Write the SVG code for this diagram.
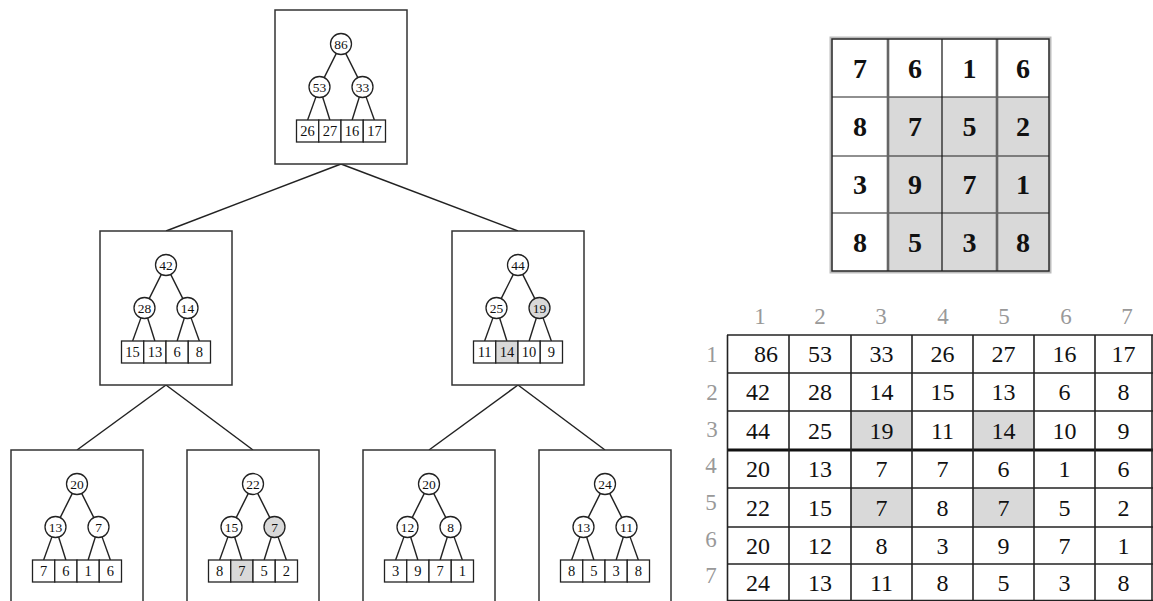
<svg xmlns="http://www.w3.org/2000/svg" xmlns:xlink="http://www.w3.org/1999/xlink" width="1153" height="601" viewBox="0 0 1153 601">
<style>
.box{fill:#fff;stroke:#333;stroke-width:1.5}
.e{stroke:#222;stroke-width:1.4;fill:none}
.c{fill:#fff;stroke:#222;stroke-width:1.3}
.cg{fill:#d9d9d9;stroke:#222;stroke-width:1.3}
.lf{fill:#fff;stroke:#222;stroke-width:1.3}
.lg{fill:#d9d9d9;stroke:#222;stroke-width:1.3}
.tc{font-family:"Liberation Serif","DejaVu Serif",serif;font-size:13.5px;text-anchor:middle;fill:#111}
.tl{font-family:"Liberation Serif","DejaVu Serif",serif;font-size:14.5px;text-anchor:middle;fill:#111}
.con{stroke:#222;stroke-width:1.5;fill:none}
.gt{font-family:"Liberation Serif","DejaVu Serif",serif;font-size:28px;font-weight:bold;text-anchor:middle;fill:#111}
.tt{font-family:"Liberation Serif","DejaVu Serif",serif;font-size:24px;text-anchor:middle;fill:#111}
.hd{font-family:"Liberation Serif","DejaVu Serif",serif;font-size:23px;text-anchor:middle;fill:#999}
.tb{stroke:#222;stroke-width:1.6;fill:none}
</style>
<defs>
<g id="edges">
<line class="e" x1="-4.69" y1="43.39" x2="-16.81" y2="67.61"/>
<line class="e" x1="4.69" y1="43.39" x2="16.81" y2="67.61"/>
<line class="e" x1="-25.06" y1="86.88" x2="-33.375" y2="110"/>
<line class="e" x1="-18.35" y1="87.02" x2="-11.125" y2="110"/>
<line class="e" x1="18.35" y1="87.02" x2="11.125" y2="110"/>
<line class="e" x1="25.06" y1="86.88" x2="33.375" y2="110"/>
</g>
<rect id="frame" class="box" x="-66" y="0" width="132" height="154"/>
</defs>

<g id="connectors">
<line class="con" x1="341" y1="164" x2="166" y2="231"/>
<line class="con" x1="341" y1="164" x2="518" y2="231"/>
<line class="con" x1="166" y1="385" x2="77" y2="450"/>
<line class="con" x1="166" y1="385" x2="253" y2="450"/>
<line class="con" x1="518" y1="385" x2="429" y2="450"/>
<line class="con" x1="518" y1="385" x2="605" y2="450"/>
</g>

<g id="node-top" transform="translate(341,10)">
<use xlink:href="#frame"/><use xlink:href="#edges"/>
<circle class="c" cx="0" cy="34" r="10.5"/><circle class="c" cx="-21.5" cy="77" r="10.5"/><circle class="c" cx="21.5" cy="77" r="10.5"/>
<rect class="lf" x="-44.5" y="110" width="22.25" height="22"/><rect class="lf" x="-22.25" y="110" width="22.25" height="22"/><rect class="lf" x="0" y="110" width="22.25" height="22"/><rect class="lf" x="22.25" y="110" width="22.25" height="22"/>
<text class="tc" x="0" y="38.7">86</text><text class="tc" x="-21.5" y="81.7">53</text><text class="tc" x="21.5" y="81.7">33</text>
<text class="tl" x="-33.4" y="126">26</text><text class="tl" x="-11.1" y="126">27</text><text class="tl" x="11.1" y="126">16</text><text class="tl" x="33.4" y="126">17</text>
</g>

<g id="node-mid-left" transform="translate(166,231)">
<use xlink:href="#frame"/><use xlink:href="#edges"/>
<circle class="c" cx="0" cy="34" r="10.5"/><circle class="c" cx="-21.5" cy="77" r="10.5"/><circle class="c" cx="21.5" cy="77" r="10.5"/>
<rect class="lf" x="-44.5" y="110" width="22.25" height="22"/><rect class="lf" x="-22.25" y="110" width="22.25" height="22"/><rect class="lf" x="0" y="110" width="22.25" height="22"/><rect class="lf" x="22.25" y="110" width="22.25" height="22"/>
<text class="tc" x="0" y="38.7">42</text><text class="tc" x="-21.5" y="81.7">28</text><text class="tc" x="21.5" y="81.7">14</text>
<text class="tl" x="-33.4" y="126">15</text><text class="tl" x="-11.1" y="126">13</text><text class="tl" x="11.1" y="126">6</text><text class="tl" x="33.4" y="126">8</text>
</g>

<g id="node-mid-right" transform="translate(518,231)">
<use xlink:href="#frame"/><use xlink:href="#edges"/>
<circle class="c" cx="0" cy="34" r="10.5"/><circle class="c" cx="-21.5" cy="77" r="10.5"/><circle class="cg" cx="21.5" cy="77" r="10.5"/>
<rect class="lf" x="-44.5" y="110" width="22.25" height="22"/><rect class="lg" x="-22.25" y="110" width="22.25" height="22"/><rect class="lf" x="0" y="110" width="22.25" height="22"/><rect class="lf" x="22.25" y="110" width="22.25" height="22"/>
<text class="tc" x="0" y="38.7">44</text><text class="tc" x="-21.5" y="81.7">25</text><text class="tc" x="21.5" y="81.7">19</text>
<text class="tl" x="-33.4" y="126">11</text><text class="tl" x="-11.1" y="126">14</text><text class="tl" x="11.1" y="126">10</text><text class="tl" x="33.4" y="126">9</text>
</g>

<g id="node-bot-1" transform="translate(77,450)">
<use xlink:href="#frame"/><use xlink:href="#edges"/>
<circle class="c" cx="0" cy="34" r="10.5"/><circle class="c" cx="-21.5" cy="77" r="10.5"/><circle class="c" cx="21.5" cy="77" r="10.5"/>
<rect class="lf" x="-44.5" y="110" width="22.25" height="22"/><rect class="lf" x="-22.25" y="110" width="22.25" height="22"/><rect class="lf" x="0" y="110" width="22.25" height="22"/><rect class="lf" x="22.25" y="110" width="22.25" height="22"/>
<text class="tc" x="0" y="38.7">20</text><text class="tc" x="-21.5" y="81.7">13</text><text class="tc" x="21.5" y="81.7">7</text>
<text class="tl" x="-33.4" y="126">7</text><text class="tl" x="-11.1" y="126">6</text><text class="tl" x="11.1" y="126">1</text><text class="tl" x="33.4" y="126">6</text>
</g>

<g id="node-bot-2" transform="translate(253,450)">
<use xlink:href="#frame"/><use xlink:href="#edges"/>
<circle class="c" cx="0" cy="34" r="10.5"/><circle class="c" cx="-21.5" cy="77" r="10.5"/><circle class="cg" cx="21.5" cy="77" r="10.5"/>
<rect class="lf" x="-44.5" y="110" width="22.25" height="22"/><rect class="lg" x="-22.25" y="110" width="22.25" height="22"/><rect class="lf" x="0" y="110" width="22.25" height="22"/><rect class="lf" x="22.25" y="110" width="22.25" height="22"/>
<text class="tc" x="0" y="38.7">22</text><text class="tc" x="-21.5" y="81.7">15</text><text class="tc" x="21.5" y="81.7">7</text>
<text class="tl" x="-33.4" y="126">8</text><text class="tl" x="-11.1" y="126">7</text><text class="tl" x="11.1" y="126">5</text><text class="tl" x="33.4" y="126">2</text>
</g>

<g id="node-bot-3" transform="translate(429,450)">
<use xlink:href="#frame"/><use xlink:href="#edges"/>
<circle class="c" cx="0" cy="34" r="10.5"/><circle class="c" cx="-21.5" cy="77" r="10.5"/><circle class="c" cx="21.5" cy="77" r="10.5"/>
<rect class="lf" x="-44.5" y="110" width="22.25" height="22"/><rect class="lf" x="-22.25" y="110" width="22.25" height="22"/><rect class="lf" x="0" y="110" width="22.25" height="22"/><rect class="lf" x="22.25" y="110" width="22.25" height="22"/>
<text class="tc" x="0" y="38.7">20</text><text class="tc" x="-21.5" y="81.7">12</text><text class="tc" x="21.5" y="81.7">8</text>
<text class="tl" x="-33.4" y="126">3</text><text class="tl" x="-11.1" y="126">9</text><text class="tl" x="11.1" y="126">7</text><text class="tl" x="33.4" y="126">1</text>
</g>

<g id="node-bot-4" transform="translate(605,450)">
<use xlink:href="#frame"/><use xlink:href="#edges"/>
<circle class="c" cx="0" cy="34" r="10.5"/><circle class="c" cx="-21.5" cy="77" r="10.5"/><circle class="c" cx="21.5" cy="77" r="10.5"/>
<rect class="lf" x="-44.5" y="110" width="22.25" height="22"/><rect class="lf" x="-22.25" y="110" width="22.25" height="22"/><rect class="lf" x="0" y="110" width="22.25" height="22"/><rect class="lf" x="22.25" y="110" width="22.25" height="22"/>
<text class="tc" x="0" y="38.7">24</text><text class="tc" x="-21.5" y="81.7">13</text><text class="tc" x="21.5" y="81.7">11</text>
<text class="tl" x="-33.4" y="126">8</text><text class="tl" x="-11.1" y="126">5</text><text class="tl" x="11.1" y="126">3</text><text class="tl" x="33.4" y="126">8</text>
</g>

<g id="grid">
<rect x="831" y="38" width="219" height="234" fill="none" stroke="#bbb" stroke-width="3"/>
<rect x="888" y="97" width="161" height="174" fill="#d9d9d9"/>
<line x1="832" y1="97" x2="1049" y2="97" stroke="#222" stroke-width="1.2"/>
<line x1="832" y1="156" x2="1049" y2="156" stroke="#222" stroke-width="1.2"/>
<line x1="832" y1="213" x2="1049" y2="213" stroke="#222" stroke-width="1.2"/>
<line x1="888" y1="39" x2="888" y2="271" stroke="#666" stroke-width="2.6"/>
<line x1="997" y1="39" x2="997" y2="271" stroke="#666" stroke-width="2.6"/>
<line x1="942" y1="39" x2="942" y2="271" stroke="#111" stroke-width="1.2"/>
<rect x="832" y="39" width="217" height="232" fill="none" stroke="#222" stroke-width="1.4"/>
<text class="gt" x="860" y="78">7</text><text class="gt" x="915" y="78">6</text><text class="gt" x="969.5" y="78">1</text><text class="gt" x="1023" y="78">6</text>
<text class="gt" x="860" y="136">8</text><text class="gt" x="915" y="136">7</text><text class="gt" x="969.5" y="136">5</text><text class="gt" x="1023" y="136">2</text>
<text class="gt" x="860" y="194">3</text><text class="gt" x="915" y="194">9</text><text class="gt" x="969.5" y="194">7</text><text class="gt" x="1023" y="194">1</text>
<text class="gt" x="860" y="252">8</text><text class="gt" x="915" y="252">5</text><text class="gt" x="969.5" y="252">3</text><text class="gt" x="1023" y="252">8</text>
</g>

<g id="table">
<rect x="851" y="411" width="61" height="39" fill="#d9d9d9"/>
<rect x="973" y="411" width="61" height="39" fill="#d9d9d9"/>
<rect x="851" y="488" width="61" height="39" fill="#d9d9d9"/>
<rect x="973" y="488" width="61" height="39" fill="#d9d9d9"/>
<line class="tb" x1="727" y1="335" x2="1153" y2="335"/>
<line class="tb" x1="727" y1="373" x2="1153" y2="373"/>
<line class="tb" x1="727" y1="411" x2="1153" y2="411"/>
<line x1="727" y1="450" x2="1153" y2="450" stroke="#111" stroke-width="2.8"/>
<line class="tb" x1="727" y1="488" x2="1153" y2="488"/>
<line class="tb" x1="727" y1="527" x2="1153" y2="527"/>
<line class="tb" x1="727" y1="564" x2="1153" y2="564"/>
<line class="tb" x1="727" y1="600.5" x2="1153" y2="600.5"/>
<line class="tb" x1="727.5" y1="335" x2="727.5" y2="601"/>
<line class="tb" x1="789" y1="335" x2="789" y2="601"/>
<line class="tb" x1="851" y1="335" x2="851" y2="601"/>
<line class="tb" x1="912" y1="335" x2="912" y2="601"/>
<line class="tb" x1="973" y1="335" x2="973" y2="601"/>
<line class="tb" x1="1034" y1="335" x2="1034" y2="601"/>
<line class="tb" x1="1095" y1="335" x2="1095" y2="601"/>
<line class="tb" x1="1152" y1="335" x2="1152" y2="601"/>
<text class="hd" x="760" y="324">1</text><text class="hd" x="820" y="324">2</text><text class="hd" x="881" y="324">3</text><text class="hd" x="943" y="324">4</text><text class="hd" x="1004" y="324">5</text><text class="hd" x="1066" y="324">6</text><text class="hd" x="1127" y="324">7</text>
<text class="hd" x="712" y="362">1</text><text class="hd" x="712" y="400">2</text><text class="hd" x="712" y="437">3</text><text class="hd" x="711" y="473">4</text><text class="hd" x="711" y="510">5</text><text class="hd" x="711" y="547">6</text><text class="hd" x="711" y="583">7</text>
<text class="tt" x="766" y="362">86</text><text class="tt" x="820" y="362">53</text><text class="tt" x="881.5" y="362">33</text><text class="tt" x="942.5" y="362">26</text><text class="tt" x="1003.5" y="362">27</text><text class="tt" x="1064.5" y="362">16</text><text class="tt" x="1123.5" y="362">17</text>
<text class="tt" x="758" y="400">42</text><text class="tt" x="820" y="400">28</text><text class="tt" x="881.5" y="400">14</text><text class="tt" x="942.5" y="400">15</text><text class="tt" x="1003.5" y="400">13</text><text class="tt" x="1064.5" y="400">6</text><text class="tt" x="1123.5" y="400">8</text>
<text class="tt" x="758" y="438.5">44</text><text class="tt" x="820" y="438.5">25</text><text class="tt" x="881.5" y="438.5">19</text><text class="tt" x="942.5" y="438.5">11</text><text class="tt" x="1003.5" y="438.5">14</text><text class="tt" x="1064.5" y="438.5">10</text><text class="tt" x="1123.5" y="438.5">9</text>
<text class="tt" x="758" y="477">20</text><text class="tt" x="820" y="477">13</text><text class="tt" x="881.5" y="477">7</text><text class="tt" x="942.5" y="477">7</text><text class="tt" x="1003.5" y="477">6</text><text class="tt" x="1064.5" y="477">1</text><text class="tt" x="1123.5" y="477">6</text>
<text class="tt" x="758" y="515.5">22</text><text class="tt" x="820" y="515.5">15</text><text class="tt" x="881.5" y="515.5">7</text><text class="tt" x="942.5" y="515.5">8</text><text class="tt" x="1003.5" y="515.5">7</text><text class="tt" x="1064.5" y="515.5">5</text><text class="tt" x="1123.5" y="515.5">2</text>
<text class="tt" x="758" y="553.5">20</text><text class="tt" x="820" y="553.5">12</text><text class="tt" x="881.5" y="553.5">8</text><text class="tt" x="942.5" y="553.5">3</text><text class="tt" x="1003.5" y="553.5">9</text><text class="tt" x="1064.5" y="553.5">7</text><text class="tt" x="1123.5" y="553.5">1</text>
<text class="tt" x="758" y="590.5">24</text><text class="tt" x="820" y="590.5">13</text><text class="tt" x="881.5" y="590.5">11</text><text class="tt" x="942.5" y="590.5">8</text><text class="tt" x="1003.5" y="590.5">5</text><text class="tt" x="1064.5" y="590.5">3</text><text class="tt" x="1123.5" y="590.5">8</text>
</g>
</svg>
